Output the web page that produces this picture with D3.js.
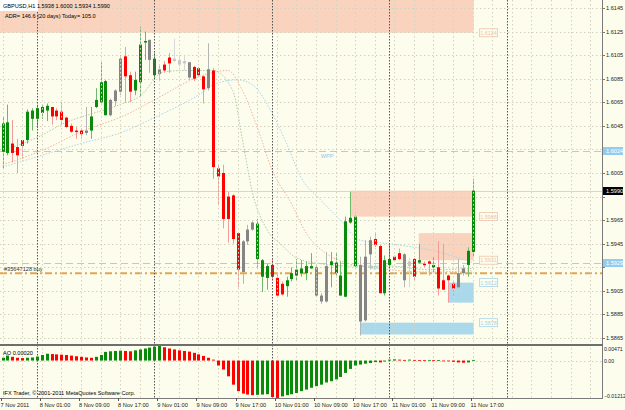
<!DOCTYPE html>
<html>
<head>
<meta charset="utf-8">
<script src="https://cdn.jsdelivr.net/npm/d3@7/dist/d3.min.js"></script>
<style>
body { margin: 0; background: #fdfdee; }
svg text { font-family: "Liberation Sans", Arial, sans-serif; }
</style>
</head>
<body>
<div id="chart"></div>
<script>
// GBPUSD H1 candles, 7 Nov 2011 17:00 .. 11 Nov 2011 17:00
var opens  = [1.6023,1.6022,1.6030,1.6027,1.6033,1.6033,1.6051,1.6051,1.6056,1.6058,
              1.6061,1.6058,1.6057,1.6052,1.6045,1.6041,1.6041,1.6039,1.6041,1.6061,
              1.6065,1.6054,1.6067,1.6066,1.6074,1.6104,1.6088,1.6075,1.6082,1.6116,
              1.6118,1.6088,1.6093,1.6097,1.6103,1.6102,1.6101,1.6100,1.6099,1.6095,
              1.6094,1.6087,1.6093,1.6092,1.6009,1.6005,1.5985,1.5986,1.5954,1.5947,
              1.5957,1.5963,1.5932,1.5917,1.5916,1.5927,1.5916,1.5911,1.5909,1.5915,
              1.5918,1.5920,1.5920,1.5924,1.5925,1.5901,1.5926,1.5927,1.5920,1.5901,
              1.5900,1.5963,1.5926,1.5927,1.5934,1.5948,1.5949,1.5943,1.5903,1.5927,
              1.5934,1.5937,1.5936,1.5930,1.5932,1.5929,1.5928,1.5930,1.5925,1.5925,
              1.5914,1.5918,1.5911,1.5920,1.5924,1.5927,1.5938];
var highs  = [1.6053,1.6063,1.6050,1.6034,1.6033,1.6059,1.6060,1.6063,1.6063,1.6064,
              1.6061,1.6060,1.6065,1.6053,1.6047,1.6044,1.6043,1.6061,1.6061,1.6077,
              1.6099,1.6084,1.6068,1.6076,1.6105,1.6112,1.6091,1.6091,1.6129,1.6125,
              1.6118,1.6107,1.6096,1.6100,1.6107,1.6119,1.6105,1.6105,1.6099,1.6096,
              1.6095,1.6088,1.6115,1.6094,1.6012,1.6012,1.5989,1.5987,1.5955,1.5948,
              1.5961,1.5964,1.5966,1.5932,1.5928,1.5932,1.5920,1.5913,1.5917,1.5925,
              1.5932,1.5931,1.5930,1.5937,1.5927,1.5903,1.5938,1.5938,1.5937,1.5930,
              1.5968,1.5989,1.5969,1.5934,1.5948,1.5951,1.5954,1.5944,1.5935,1.5945,
              1.5935,1.5941,1.5937,1.5933,1.5933,1.5945,1.5930,1.5931,1.5934,1.5947,
              1.5945,1.5919,1.5913,1.5932,1.5927,1.5942,1.6000];
var lows   = [1.6009,1.6020,1.6014,1.6005,1.6017,1.6030,1.6041,1.6043,1.6051,1.6049,
              1.6046,1.6050,1.6046,1.6043,1.6039,1.6034,1.6034,1.6037,1.6034,1.6060,
              1.6064,1.6054,1.6053,1.6062,1.6071,1.6065,1.6065,1.6071,1.6070,1.6101,
              1.6090,1.6085,1.6084,1.6090,1.6090,1.6099,1.6095,1.6092,1.6084,1.6083,
              1.6087,1.6064,1.6075,1.6000,1.5978,1.5958,1.5946,1.5945,1.5908,1.5911,
              1.5944,1.5956,1.5925,1.5904,1.5906,1.5914,1.5900,1.5901,1.5900,1.5913,
              1.5914,1.5917,1.5914,1.5924,1.5900,1.5894,1.5895,1.5908,1.5918,1.5901,
              1.5900,1.5962,1.5925,1.5867,1.5879,1.5924,1.5942,1.5903,1.5901,1.5925,
              1.5930,1.5931,1.5908,1.5908,1.5914,1.5928,1.5925,1.5918,1.5920,1.5901,
              1.5906,1.5895,1.5900,1.5907,1.5918,1.5917,1.5934];
var closes = [1.6047,1.6048,1.6022,1.6020,1.6028,1.6057,1.6058,1.6060,1.6061,1.6062,
              1.6053,1.6053,1.6050,1.6044,1.6040,1.6040,1.6038,1.6041,1.6053,1.6067,
              1.6082,1.6083,1.6054,1.6075,1.6102,1.6087,1.6074,1.6084,1.6114,1.6117,
              1.6101,1.6102,1.6089,1.6092,1.6098,1.6100,1.6097,1.6098,1.6086,1.6085,
              1.6088,1.6076,1.6077,1.6010,1.6002,1.5966,1.5966,1.5949,1.5923,1.5921,
              1.5947,1.5957,1.5962,1.5931,1.5926,1.5917,1.5901,1.5902,1.5914,1.5920,
              1.5923,1.5924,1.5926,1.5926,1.5901,1.5896,1.5896,1.5930,1.5929,1.5918,
              1.5964,1.5967,1.5968,1.5879,1.5880,1.5936,1.5944,1.5903,1.5931,1.5932,
              1.5931,1.5932,1.5914,1.5926,1.5917,1.5931,1.5927,1.5928,1.5927,1.5907,
              1.5906,1.5914,1.5907,1.5908,1.5920,1.5939,1.5990];
// candle colouring as shown: g = green, r = red, n = grey, l = light grey
var candleKinds = ("ggrrrggggg" + "rrrrrrrngg" + "ggnnnrrggg" + "ngnrrlllnr" +
                   "rrnrrrrrrn" + "nngggrrrgg" + "ggggnnnggg" + "gggnnnrrgg" +
                   "rrnlrgrrgr" + "rrrnngg").split("");

// moving averages, [bar index, price]
var maFast = [[0,1.6024],[7,1.6035],[13,1.6048],[18,1.6055],[24,1.6063],[28,1.6070],
              [33,1.6091],[38,1.6092],[43,1.6092],[47,1.6075],[49,1.6033],[51,1.5989],
              [54,1.5957],[57,1.5944],[60,1.5933],[65,1.5928],[71,1.5926],[79,1.5926],
              [87,1.5923],[96,1.5924]];
var maMid  = [[0,1.6012],[8,1.6024],[16,1.6040],[25,1.6054],[31,1.6067],[41,1.6088],
              [46,1.6092],[49,1.6075],[52,1.6044],[55,1.6008],[59,1.5979],[62,1.5954],
              [66,1.5937],[70,1.5929],[77,1.5924],[87,1.5921],[96,1.5922]];
var maSlow = [[0,1.6010],[8,1.6020],[16,1.6030],[24,1.6039],[31,1.6052],[41,1.6074],
              [43,1.6080],[48,1.6084],[51,1.6080],[55,1.6056],[58,1.6030],[61,1.6001],
              [65,1.5982],[69,1.5965],[73,1.5948],[79,1.5945],[89,1.5938],[96,1.5929]];

// Awesome Oscillator
var aoValues = [0.0009,0.0016,0.0012,0.0009,0.0008,0.0009,0.0010,0.0013,0.0018,0.0022,
                0.0021,0.0020,0.0019,0.0018,0.0016,0.0014,0.0012,0.0010,0.0009,0.0012,
                0.0018,0.0028,0.0030,0.0031,0.0032,0.0031,0.0030,0.0033,0.0036,0.0039,
                0.0042,0.0045,0.0047,0.0043,0.0039,0.0036,0.0033,0.0031,0.0029,0.0025,
                0.0020,0.0015,0.0009,0.0003,-0.0016,-0.0029,-0.0051,-0.0078,-0.0099,-0.0107,
                -0.0110,-0.0112,-0.0111,-0.0110,-0.0109,-0.0118,-0.0121,-0.0116,-0.0112,-0.0109,
                -0.0105,-0.0099,-0.0094,-0.0088,-0.0083,-0.0078,-0.0071,-0.0067,-0.0061,-0.0053,
                -0.0040,-0.0027,-0.0016,-0.0013,-0.0010,-0.0008,-0.0005,-0.0006,-0.0003,0.0003,
                0.0004,0.0003,0.0002,0.0003,0.0002,0.00015,0.0001,0.0002,0.0001,0.00015,
                -0.0001,-0.0002,-0.0004,-0.0006,-0.0007,-0.0006,0.0002];

var priceTicks = [1.5865,1.5885,1.5905,1.5925,1.5945,1.5965,1.5985,1.6005,1.6025,
                  1.6045,1.6065,1.6085,1.6105,1.6125,1.6145];
var aoTicks = [0.00471, 0.00, -0.01212];

// levels and zones
var levels = [{name: "WPP", price: 1.6024, labelIdx: 65},
              {name: "PP", price: 1.5929, labelIdx: 75}];
var orderPrice = 1.5920, orderText = "#35647128 buy";
var bidPrice = 1.5990;
var supplyZones = [{from: -2, to: 96, hi: 1.6170, lo: 1.6124, label: "1.6124"},
                   {from: 71, to: 96, hi: 1.5990, lo: 1.5968, label: "1.5968"},
                   {from: 85, to: 96, hi: 1.5954, lo: 1.5931, label: "1.5931"}];
var demandZones = [{from: 91, to: 96, hi: 1.5912, lo: 1.5895, label: "1.5912"},
                   {from: 73, to: 96, hi: 1.5878, lo: 1.5868, label: "1.5878"}];

var W = 625, H = 410;
var plotRight = 602, mainBottom = 344, aoTop = 346, aoBottom = 398;
var bg = "#fdfdee";
var wickColor = {g: "#6cb86c", r: "#f49a9a", n: "#b5b5b5", l: "#d8d8d8"};
var bodyColor = {g: "#0a8a0a", r: "#ff0000", n: "#858585", l: "#c8c8c8"};

var nBars = opens.length;
var startTime = new Date(2011, 10, 7, 17);
var barTime = function(i) { return d3.timeHour.offset(startTime, i); };

var x = d3.scaleLinear().domain([0, 100]).range([2.6, 2.6 + 100 * 4.896]);
var y = d3.scaleLinear().domain([1.5865, 1.6145]).range([338, 8]);
var yAo = d3.scaleLinear().domain([-0.01212, 0.00471]).range([aoBottom, aoTop]);

var svg = d3.select("#chart").append("svg")
    .attr("width", W)
    .attr("height", H)
    .style("display", "block");

svg.append("rect").attr("width", W).attr("height", H).attr("fill", bg);

svg.append("clipPath").attr("id", "mainClip")
  .append("rect").attr("x", 0).attr("y", 0).attr("width", plotRight).attr("height", mainBottom);
var main = svg.append("g").attr("clip-path", "url(#mainClip)");

// zones sit behind everything
main.selectAll("rect.supply").data(supplyZones).enter()
    .append("rect")
    .attr("x", function(d) { return x(d.from); })
    .attr("y", function(d) { return y(d.hi); })
    .attr("width", function(d) { return x(d.to) - x(d.from) + 1; })
    .attr("height", function(d) { return y(d.lo) - y(d.hi); })
    .attr("fill", "#f9d3bd");
main.selectAll("rect.demand").data(demandZones).enter()
    .append("rect")
    .attr("x", function(d) { return x(d.from); })
    .attr("y", function(d) { return y(d.hi); })
    .attr("width", function(d) { return x(d.to) - x(d.from) + 1; })
    .attr("height", function(d) { return y(d.lo) - y(d.hi); })
    .attr("fill", "#acd9ea");

// grid
var gridIdx = d3.range(0, 124, 4);
main.selectAll("line.hgrid").data(priceTicks).enter()
    .append("line")
    .attr("x1", 0).attr("x2", plotRight)
    .attr("y1", function(d) { return Math.round(y(d)) + 0.5; })
    .attr("y2", function(d) { return Math.round(y(d)) + 0.5; })
    .attr("stroke", "#d6d2c0").attr("stroke-dasharray", "1.5 2.5");
svg.selectAll("line.vgrid").data(gridIdx).enter()
    .append("line")
    .attr("x1", function(d) { return Math.round(x(d)) + 0.5; })
    .attr("x2", function(d) { return Math.round(x(d)) + 0.5; })
    .attr("y1", 0).attr("y2", aoBottom)
    .attr("stroke", "#d6d2c0").attr("stroke-dasharray", "1.5 2.5");
svg.selectAll("line.ao-h").data([0.00]).enter()
    .append("line")
    .attr("x1", 0).attr("x2", plotRight)
    .attr("y1", function(d) { return Math.round(yAo(d)) + 0.5; })
    .attr("y2", function(d) { return Math.round(yAo(d)) + 0.5; })
    .attr("stroke", "#d6d2c0").attr("stroke-dasharray", "1.5 2.5");

// day separators
var sepIdx = d3.range(0, 125).filter(function(i) { return barTime(i).getHours() === 0; });
svg.selectAll("line.sep").data(sepIdx).enter()
    .append("line")
    .attr("x1", function(d) { return Math.round(x(d)) + 0.5; })
    .attr("x2", function(d) { return Math.round(x(d)) + 0.5; })
    .attr("y1", 0).attr("y2", aoBottom)
    .attr("stroke", "#555").attr("stroke-dasharray", "1.5 1.5");

// bid line
main.append("line")
    .attr("x1", 0).attr("x2", plotRight)
    .attr("y1", Math.round(y(bidPrice)) + 0.5).attr("y2", Math.round(y(bidPrice)) + 0.5)
    .attr("stroke", "#ddd5cc");

// pivot levels
main.selectAll("line.level").data(levels).enter()
    .append("line")
    .attr("x1", 0).attr("x2", plotRight)
    .attr("y1", function(d) { return Math.round(y(d.price)) + 0.5; })
    .attr("y2", function(d) { return Math.round(y(d.price)) + 0.5; })
    .attr("stroke", "#9dd3f0").attr("stroke-width", 1.2).attr("stroke-dasharray", "7 4");
main.selectAll("text.level").data(levels).enter()
    .append("text")
    .attr("x", function(d) { return x(d.labelIdx); })
    .attr("y", function(d) { return y(d.price) + 7; })
    .attr("font-size", "5.6px")
    .attr("fill", "#8cc8ea")
    .text(function(d) { return d.name; });

// order line
main.append("line")
    .attr("x1", 0).attr("x2", plotRight)
    .attr("y1", y(orderPrice)).attr("y2", y(orderPrice))
    .attr("stroke", "#e0a552").attr("stroke-width", 2).attr("stroke-dasharray", "7 3 2 3");
main.append("text")
    .attr("x", 4).attr("y", y(orderPrice) - 2.5)
    .attr("font-size", "5.6px").attr("fill", "#333")
    .text(orderText);

// moving averages
var maLine = d3.line()
    .x(function(d) { return x(d[0]); })
    .y(function(d) { return y(d[1]); })
    .curve(d3.curveMonotoneX);
[[maFast, "#a9cfa0"], [maMid, "#f2b59a"], [maSlow, "#a8d4ea"]].forEach(function(m) {
    main.append("path")
        .attr("d", maLine(m[0]))
        .attr("fill", "none")
        .attr("stroke", m[1])
        .attr("stroke-dasharray", "1.5 1.5");
});

// candles
var bars = d3.range(nBars);
main.selectAll("line.wick").data(bars).enter()
    .append("line")
    .attr("x1", function(i) { return Math.round(x(i)) + 0.5; })
    .attr("x2", function(i) { return Math.round(x(i)) + 0.5; })
    .attr("y1", function(i) { return y(highs[i]); })
    .attr("y2", function(i) { return y(lows[i]); })
    .attr("stroke", function(i) { return wickColor[candleKinds[i]]; });
main.selectAll("rect.body").data(bars).enter()
    .append("rect")
    .attr("x", function(i) { return Math.round(x(i)) - 1; })
    .attr("y", function(i) { return y(Math.max(opens[i], closes[i])); })
    .attr("width", 3)
    .attr("height", function(i) { return Math.max(1.5, Math.abs(y(opens[i]) - y(closes[i]))); })
    .attr("fill", function(i) { return bodyColor[candleKinds[i]]; });

// zone labels
var zoneLabels = supplyZones.map(function(d) { return {p: d.lo, t: d.label, c: "#f2c2a8"}; })
    .concat(demandZones.map(function(d) { return {p: d.hi, t: d.label, c: "#a8d4ea"}; }));
var zl = main.selectAll("g.zl").data(zoneLabels).enter().append("g")
    .attr("transform", function(d) { return "translate(" + (x(96) + 7) + "," + y(d.p) + ")"; });
zl.append("rect")
    .attr("x", 0).attr("y", -4).attr("width", 18).attr("height", 8)
    .attr("fill", bg).attr("stroke", function(d) { return d.c; }).attr("stroke-width", 0.8);
zl.append("text")
    .attr("x", 9).attr("y", 2)
    .attr("text-anchor", "middle")
    .attr("font-size", "5.4px")
    .attr("fill", function(d) { return d.c; })
    .text(function(d) { return d.t; });

// AO histogram
svg.selectAll("rect.ao").data(bars).enter()
    .append("rect")
    .attr("x", function(i) { return Math.round(x(i)) - 1; })
    .attr("y", function(i) { return Math.min(yAo(aoValues[i]), yAo(0)); })
    .attr("width", 3)
    .attr("height", function(i) { return Math.max(0.8, Math.abs(yAo(aoValues[i]) - yAo(0))); })
    .attr("fill", function(i) {
        return (i === 0 || aoValues[i] > aoValues[i - 1]) ? "#0a8a0a" : "#ff0000";
    });

// frames
svg.append("line").attr("x1", plotRight + 0.5).attr("x2", plotRight + 0.5)
    .attr("y1", 0).attr("y2", aoBottom + 1).attr("stroke", "#7a7a7a");
svg.append("rect").attr("x", 0).attr("y", mainBottom).attr("width", plotRight + 1).attr("height", 2)
    .attr("fill", "#6e6e6e");
svg.append("line").attr("x1", 0).attr("x2", plotRight + 1)
    .attr("y1", aoBottom + 0.5).attr("y2", aoBottom + 0.5).attr("stroke", "#7a7a7a");

// price axis; labels under a coloured tag are hidden, as in the terminal
var axisTags = levels.map(function(d) { return {p: d.price, fill: "#92cdf0", color: "#fff"}; })
    .concat([{p: bidPrice, fill: "#000", color: "#fff"}]);
var visibleTicks = priceTicks.filter(function(t) {
    return axisTags.every(function(g) { return Math.abs(y(g.p) - y(t)) > 6; });
});
var pa = svg.append("g");
pa.selectAll("text").data(visibleTicks).enter()
    .append("text")
    .attr("x", 606).attr("y", function(d) { return y(d) + 2; })
    .attr("font-size", "5.6px").attr("fill", "#222")
    .text(function(d) { return d3.format(".4f")(d); });
pa.selectAll("line").data(priceTicks).enter()
    .append("line")
    .attr("x1", plotRight).attr("x2", plotRight + 3)
    .attr("y1", function(d) { return Math.round(y(d)) + 0.5; })
    .attr("y2", function(d) { return Math.round(y(d)) + 0.5; })
    .attr("stroke", "#7a7a7a");

var tag = svg.selectAll("g.tag").data(axisTags).enter().append("g")
    .attr("transform", function(d) { return "translate(603," + Math.round(y(d.p)) + ")"; });
tag.append("rect").attr("x", 0).attr("y", -4).attr("width", 20).attr("height", 8)
    .attr("fill", function(d) { return d.fill; });
tag.append("text").attr("x", 3).attr("y", 2)
    .attr("font-size", "5.6px").attr("fill", function(d) { return d.color; })
    .text(function(d) { return d3.format(".4f")(d.p); });

// AO axis
svg.selectAll("text.aot").data(aoTicks).enter()
    .append("text")
    .attr("x", 604)
    .attr("y", function(d) { return Math.min(Math.max(yAo(d) + 2, aoTop + 5), aoBottom); })
    .attr("font-size", "5.2px").attr("fill", "#222")
    .text(function(d) { return d === 0 ? "0.00" : d3.format(".5f")(d); });

// time axis
var labelIdx = d3.range(0, nBars, 8);
var fmt = d3.timeFormat("%-d %b %H:%M");
svg.selectAll("text.time").data(labelIdx).enter()
    .append("text")
    .attr("x", function(i) { return x(i) - 2; })
    .attr("y", 407)
    .attr("font-size", "5.7px").attr("fill", "#222")
    .text(function(i) { return i === 0 ? "7 Nov 2011" : fmt(barTime(i)); });
svg.selectAll("line.tt").data(labelIdx).enter()
    .append("line")
    .attr("x1", function(i) { return Math.round(x(i)) - 1.5; })
    .attr("x2", function(i) { return Math.round(x(i)) - 1.5; })
    .attr("y1", aoBottom).attr("y2", aoBottom + 3)
    .attr("stroke", "#555");

// header texts
svg.append("rect").attr("x", 0).attr("y", 0).attr("width", 38).attr("height", 11).attr("fill", "#fff");
svg.append("text").attr("x", 3).attr("y", 8).attr("font-size", "5.6px").attr("fill", "#000")
    .text("GBPUSD,H1  1.5938 1.6000 1.5934 1.5990");
svg.append("text").attr("x", 5).attr("y", 18).attr("font-size", "5.6px").attr("fill", "#000")
    .text("ADR= 146.6  (20 days) Today= 105.0");
svg.append("text").attr("x", 3).attr("y", 355).attr("font-size", "5.6px").attr("fill", "#000")
    .text("AO 0.00020");
svg.append("text").attr("x", 3).attr("y", 395).attr("font-size", "5.6px").attr("fill", "#000")
    .text("IFX Trader, \u00a9 2001-2011 MetaQuotes Software Corp.");
</script>
</body>
</html>
